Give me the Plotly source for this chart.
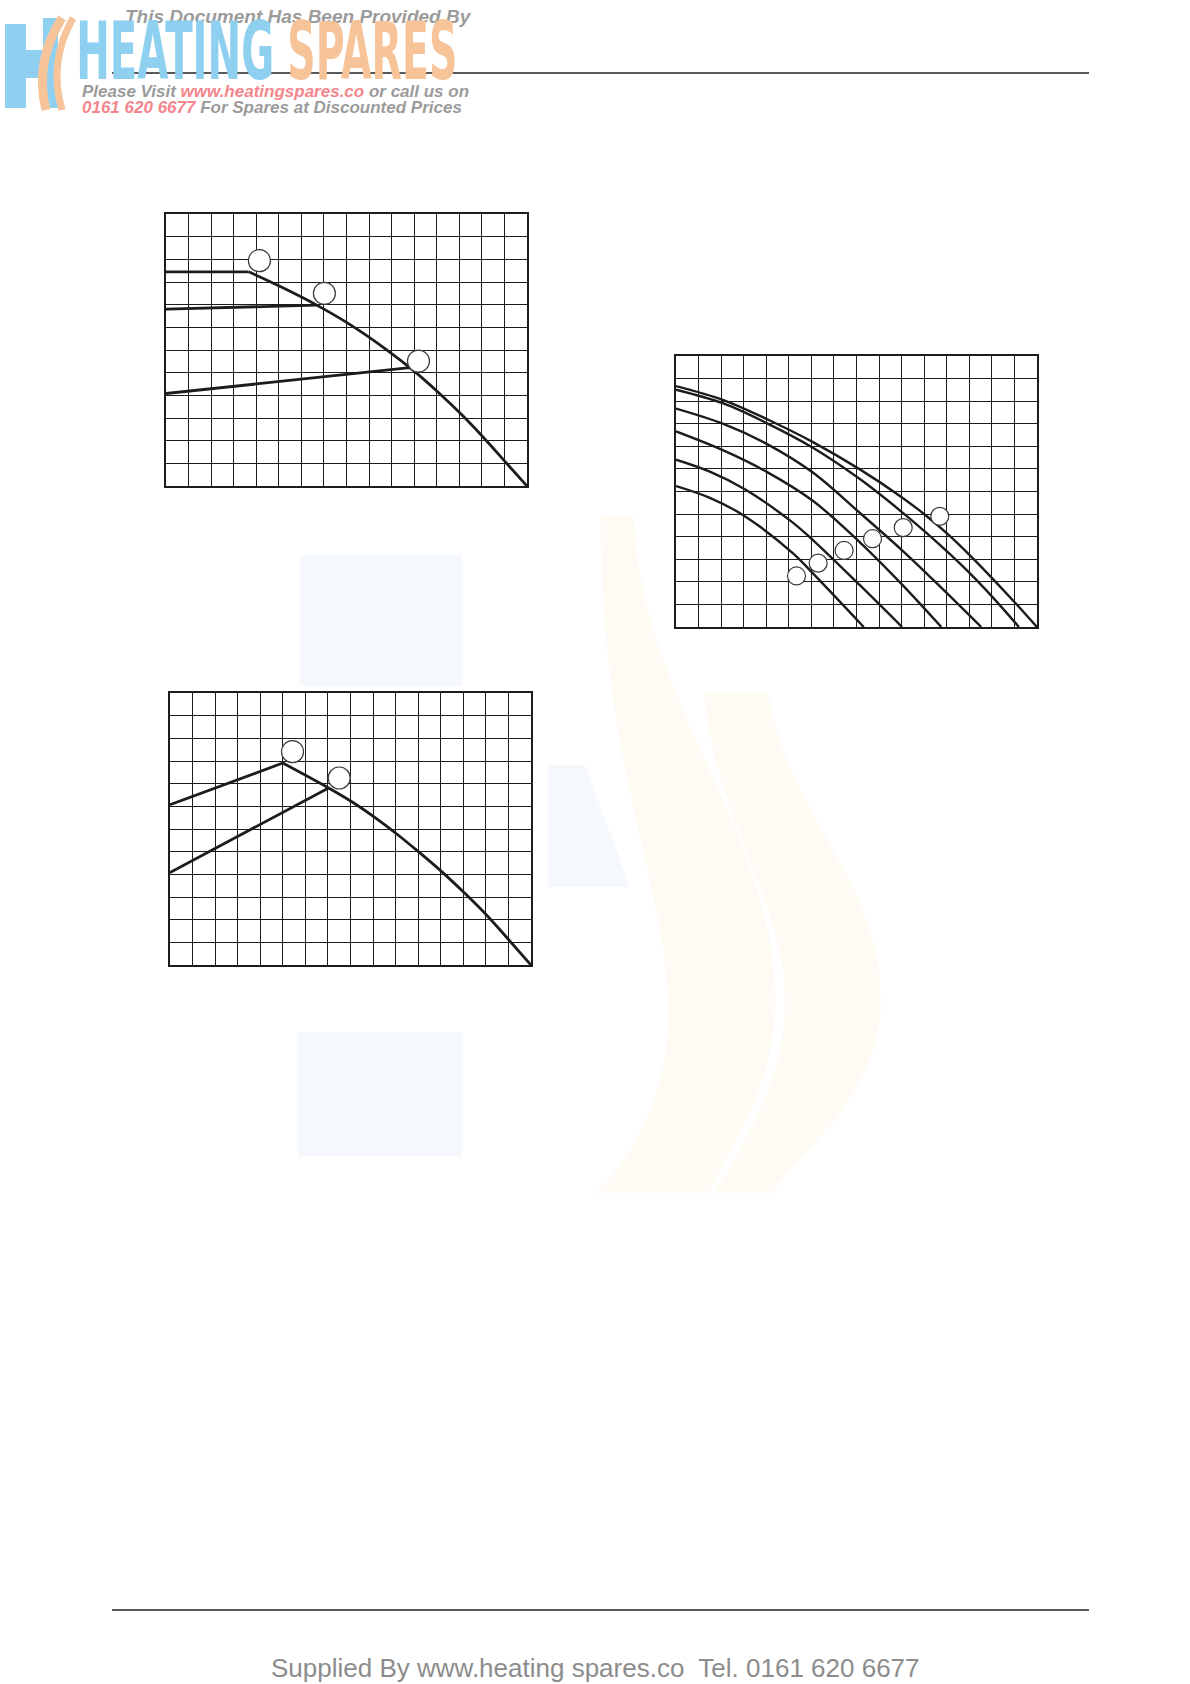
import plotly.graph_objects as go

W, H = 1190, 1684

# ---------------- data (grid units: 16 columns x 12 rows) ----------------
# Chart 1 (top left)
c1_flat_x = [0, 3.66]
c1_flat_y = [9.45, 9.45]
c1_mid_x = [0, 6.68]
c1_mid_y = [7.80, 7.98]
c1_low_x = [0, 10.81]
c1_low_y = [4.08, 5.22]
c1_curve_x = [3.66, 5.0, 6.68, 8.16, 9.63, 10.96, 11.99, 13.1, 14.06, 15.01, 16]
c1_curve_y = [9.45, 8.83, 7.98, 7.12, 6.12, 5.10, 4.20, 3.15, 2.15, 1.10, 0]
c1_circle_x = [4.14, 7.02, 11.19]
c1_circle_y = [9.94, 8.50, 5.51]

# Chart 2 (right) - six curves
c2_a_x = [0, 2.1, 4.04, 6.05, 8.15, 10.0, 11.06, 12.06, 13.05, 14.05, 15.04, 16]
c2_a_y = [10.67, 10.05, 9.2, 8.2, 6.98, 5.75, 4.95, 4.1, 3.15, 2.12, 1.06, 0]
c2_b_x = [0, 2.1, 4.04, 6.05, 8.15, 10.0, 11.06, 12.06, 13.05, 14.05, 15.2]
c2_b_y = [10.51, 9.9, 9.02, 7.95, 6.55, 5.1, 4.2, 3.3, 2.35, 1.3, 0]
c2_c_x = [0, 2.1, 4.04, 6.05, 8.15, 10.07, 11.8, 13.53]
c2_c_y = [9.67, 8.99, 8.1, 6.85, 5.05, 3.35, 1.7, 0]
c2_d_x = [0, 2.1, 4.04, 6.05, 8.15, 10.0, 11.76]
c2_d_y = [8.66, 7.82, 6.86, 5.6, 3.75, 1.9, 0]
c2_e_x = [0, 1.5, 3.05, 5.05, 6.08, 8.15, 10.02]
c2_e_y = [7.41, 6.88, 6.1, 4.72, 3.84, 1.85, 0]
c2_f_x = [0, 1.5, 2.98, 5.2, 6.08, 8.32]
c2_f_y = [6.24, 5.72, 4.95, 3.25, 2.36, 0]
c2_circle_x = [5.34, 6.3, 7.45, 8.71, 10.07, 11.69]
c2_circle_y = [2.26, 2.83, 3.39, 3.91, 4.40, 4.90]

# Chart 3 (bottom left)
c3_a_x = [0, 5.0]
c3_a_y = [7.07, 8.91]
c3_b_x = [0, 7.03]
c3_b_y = [4.08, 7.81]
c3_curve_x = [5.0, 7.03, 8.06, 9.09, 10.05, 11.01, 12.04, 13.08, 14.11, 15.07, 16]
c3_curve_y = [8.91, 7.81, 7.20, 6.50, 5.78, 5.0, 4.12, 3.15, 2.12, 1.05, 0]
c3_circle_x = [5.43, 7.5]
c3_circle_y = [9.41, 8.25]

GRID_COLS = 16
GRID_ROWS = 12

# ---------------- page layout (pixels) ----------------
boxes = {
    1: (166, 527, 214, 486),
    2: (676, 1037, 356, 627),
    3: (170, 531, 693, 965),
}


def px(x):
    return x / W


def py(y):
    return 1 - y / H


fig = go.Figure()
INK = "#1c1c1c"


def add_lines(n, xs, ys, width, spline=False):
    fig.add_trace(go.Scatter(
        x=xs, y=ys, mode="lines",
        line=dict(color=INK, width=width, shape="spline" if spline else "linear", smoothing=1.0),
        xaxis=f"x{n}", yaxis=f"y{n}", hoverinfo="skip", showlegend=False))


def add_circles(n, xs, ys, size):
    fig.add_trace(go.Scatter(
        x=xs, y=ys, mode="markers",
        marker=dict(symbol="circle", size=size, color="white",
                    line=dict(color="#3a3a3a", width=1.2)),
        xaxis=f"x{n}", yaxis=f"y{n}", hoverinfo="skip", showlegend=False))


# chart 1
add_lines(1, c1_flat_x, c1_flat_y, 2.8)
add_lines(1, c1_mid_x, c1_mid_y, 2.8)
add_lines(1, c1_low_x, c1_low_y, 2.8)
add_lines(1, c1_curve_x, c1_curve_y, 2.8, spline=True)
add_circles(1, c1_circle_x, c1_circle_y, 22)

# chart 2
for xs, ys in [(c2_a_x, c2_a_y), (c2_b_x, c2_b_y), (c2_c_x, c2_c_y),
               (c2_d_x, c2_d_y), (c2_e_x, c2_e_y), (c2_f_x, c2_f_y)]:
    add_lines(2, xs, ys, 2.4, spline=True)
add_circles(2, c2_circle_x, c2_circle_y, 18)

# chart 3
add_lines(3, c3_a_x, c3_a_y, 2.8)
add_lines(3, c3_b_x, c3_b_y, 2.8)
add_lines(3, c3_curve_x, c3_curve_y, 2.8, spline=True)
add_circles(3, c3_circle_x, c3_circle_y, 22)

layout = dict(
    width=W, height=H, autosize=False,
    margin=dict(l=0, r=0, t=0, b=0),
    paper_bgcolor="white", plot_bgcolor="rgba(0,0,0,0)",
    showlegend=False,
)
for n, (x0, x1, y0, y1) in boxes.items():
    ax_common = dict(showticklabels=False, ticks="", zeroline=False,
                     showgrid=True, gridcolor=INK, gridwidth=1.2,
                     showline=True, linecolor=INK, linewidth=2, mirror=True,
                     fixedrange=True)
    layout[f"xaxis{n}"] = dict(domain=[px(x0), px(x1)], range=[0, GRID_COLS], dtick=1,
                               anchor=f"y{n}", **ax_common)
    layout[f"yaxis{n}"] = dict(domain=[py(y1), py(y0)], range=[0, GRID_ROWS], dtick=1,
                               anchor=f"x{n}", **ax_common)
fig.update_layout(**layout)


def path_px(cmds):
    out = []
    for c in cmds:
        if isinstance(c, str):
            out.append(c)
        else:
            out.append(f"{px(c[0]):.5f},{py(c[1]):.5f}")
    return " ".join(out)


shapes = []
# faint watermark blocks
WM_BLUE = "#f5f9fe"
WM_ORANGE = "#fffbf4"
for (x0, y0, x1, y1) in [(300, 555, 462, 686), (298, 1032, 462, 1156)]:
    shapes.append(dict(type="rect", xref="paper", yref="paper", x0=px(x0), x1=px(x1),
                       y0=py(y1), y1=py(y0), fillcolor=WM_BLUE, line=dict(width=0), layer="below"))
shapes.append(dict(type="path", xref="paper", yref="paper", layer="below",
                   path=path_px(["M", (548, 765), "L", (585, 765), "L", (630, 887), "L", (548, 887), "Z"]),
                   fillcolor=WM_BLUE, line=dict(width=0)))
# orange S bands of watermark
shapes.append(dict(type="path", xref="paper", yref="paper", layer="below",
                   path=path_px(["M", (601, 516), "L", (634, 516),
                                 "C", (640, 700), (775, 830), (775, 1000),
                                 "C", (775, 1100), (720, 1160), (709, 1193), "L", (596, 1193),
                                 "C", (640, 1150), (672, 1080), (668, 1000),
                                 "C", (664, 880), (600, 760), (601, 516), "Z"]),
                   fillcolor=WM_ORANGE, line=dict(width=0)))
shapes.append(dict(type="path", xref="paper", yref="paper", layer="below",
                   path=path_px(["M", (704, 693), "L", (768, 693),
                                 "C", (790, 820), (881, 880), (881, 1000),
                                 "C", (881, 1100), (790, 1160), (773, 1193), "L", (714, 1193),
                                 "C", (740, 1150), (786, 1080), (785, 1000),
                                 "C", (784, 900), (715, 820), (704, 693), "Z"]),
                   fillcolor=WM_ORANGE, line=dict(width=0)))

# header / footer rules
for yy in (73, 1610):
    shapes.append(dict(type="line", xref="paper", yref="paper", x0=px(112), x1=px(1089),
                       y0=py(yy), y1=py(yy), line=dict(color="#222222", width=1.5)))

# HS logo mark
LOGO_BLUE = "#8fd0f1"
LOGO_ORANGE = "#f7c49a"
for (x0, y0, x1, y1) in [(5, 24, 26, 108), (26, 50, 46, 78), (43, 18, 58, 108)]:
    shapes.append(dict(type="rect", xref="paper", yref="paper", x0=px(x0), x1=px(x1),
                       y0=py(y1), y1=py(y0), fillcolor=LOGO_BLUE, line=dict(width=0)))
shapes.append(dict(type="path", xref="paper", yref="paper",
                   path=path_px(["M", (62, 18), "Q", (34, 62), (46, 110)]),
                   line=dict(color=LOGO_ORANGE, width=9)))
shapes.append(dict(type="path", xref="paper", yref="paper",
                   path=path_px(["M", (73, 18), "Q", (48, 62), (62, 110)]),
                   line=dict(color=LOGO_ORANGE, width=7)))
fig.update_layout(shapes=shapes)

GRAY = "#9b9b9b"
PINK = "#f4868c"
annots = [
    dict(text="<b><i>This Document Has Been Provided By</i></b>", x=px(298), y=py(16),
         font=dict(family="Liberation Sans, Arial", size=19, color=GRAY)),
    dict(text="<b>HEATING</b>", x=px(175), y=py(51),
         font=dict(family="DejaVu Sans", size=80, color=LOGO_BLUE)),
    dict(text="<b>SPARES</b>", x=px(372), y=py(51),
         font=dict(family="DejaVu Sans", size=80, color=LOGO_ORANGE)),
    dict(text=f"<b><i>Please Visit <span style='color:{PINK}'>www.heatingspares.co</span> or call us on</i></b>",
         x=px(275), y=py(91), font=dict(family="Liberation Sans, Arial", size=17, color=GRAY)),
    dict(text=f"<b><i><span style='color:{PINK}'>0161 620 6677</span> For Spares at Discounted Prices</i></b>",
         x=px(272), y=py(107), font=dict(family="Liberation Sans, Arial", size=17, color=GRAY)),
    dict(text="Supplied By www.heating spares.co  Tel. 0161 620 6677", x=px(595), y=py(1668),
         font=dict(family="Liberation Sans, Arial", size=26, color="#8c8c8c")),
]
for a in annots:
    a.update(xref="paper", yref="paper", showarrow=False, xanchor="center", yanchor="middle")
fig.update_layout(annotations=annots)

post = """
document.body.style.margin = '0';
document.body.style.padding = '0';
var targets = {'HEATING': 198, 'SPARES': 170};
document.querySelectorAll('.annotation-text').forEach(function(t){
  var s = t.textContent;
  if (targets[s]) {
    var b = t.getBBox();
    var sx = targets[s] / b.width;
    var cx = b.x + b.width / 2;
    t.setAttribute('transform', 'translate(' + cx + ',0) scale(' + sx + ',1) translate(' + (-cx) + ',0)');
  }
});
"""

fig.write_html("out.html", post_script=post, config={"displayModeBar": False})
